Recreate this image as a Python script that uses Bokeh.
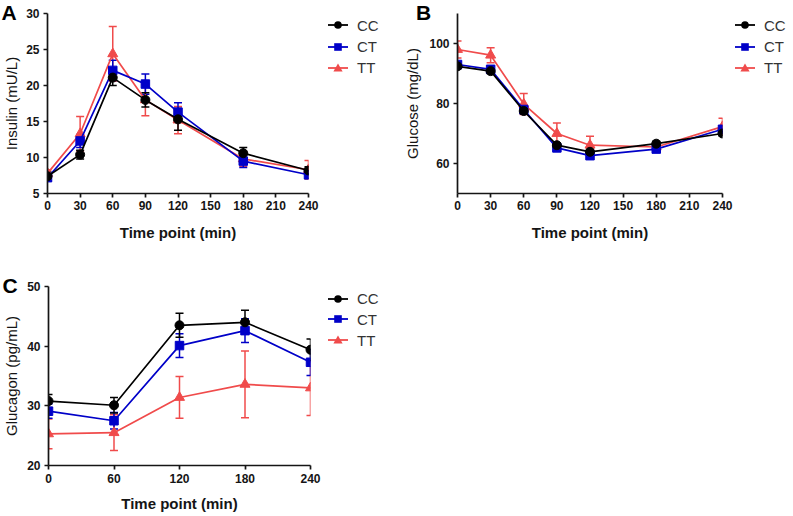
from bokeh.plotting import figure
from bokeh.models import ColumnDataSource, Whisker, TeeHead, FixedTicker, Range1d, Div
from bokeh.layouts import column, row
from bokeh.embed import file_html
from bokeh.resources import INLINE

# ---------------- data ----------------
series_names = ["CC", "CT", "TT"]

time_ab = [0, 30, 60, 90, 120, 180, 240]
ticks_ab = [0, 30, 60, 90, 120, 150, 180, 210, 240]

insulin_cc = [7.4, 10.4, 21.1, 18.0, 15.3, 10.6, 8.2]
insulin_cc_err = [0.6, 0.6, 1.1, 1.0, 1.5, 0.8, 0.5]
insulin_ct = [7.2, 12.3, 22.1, 20.2, 16.3, 9.5, 7.6]
insulin_ct_err = [0.5, 0.9, 1.4, 1.4, 1.3, 0.9, 0.5]
insulin_tt = [7.8, 13.3, 24.4, 18.0, 15.2, 9.8, 8.3]
insulin_tt_err = [0.5, 2.4, 3.8, 2.2, 1.9, 1.0, 1.3]
insulin_ticks = [5, 10, 15, 20, 25, 30]

glucose_cc = [92.4, 90.8, 77.5, 66.1, 63.9, 66.6, 70.0]
glucose_cc_err = [0.8, 0.8, 1.0, 0.8, 0.8, 0.8, 0.8]
glucose_ct = [93.0, 91.4, 78.0, 65.2, 62.6, 64.8, 71.4]
glucose_ct_err = [0.8, 0.8, 1.0, 0.8, 0.8, 0.8, 1.0]
glucose_tt = [98.0, 96.1, 79.8, 70.0, 66.1, 65.5, 72.3]
glucose_tt_err = [2.8, 2.5, 3.5, 3.5, 3.0, 0.8, 2.8]
glucose_ticks = [60, 80, 100]

time_c = [0, 60, 120, 180, 240]
ticks_c = [0, 60, 120, 180, 240]
glucagon_cc = [30.8, 30.1, 43.5, 44.0, 39.4]
glucagon_cc_err = [1.1, 1.3, 2.0, 2.0, 1.8]
glucagon_ct = [29.1, 27.5, 40.1, 42.6, 37.3]
glucagon_ct_err = [1.2, 1.4, 2.0, 2.0, 2.2]
glucagon_tt = [25.3, 25.5, 31.4, 33.6, 33.0]
glucagon_tt_err = [2.5, 3.0, 3.5, 5.6, 4.6]
glucagon_ticks = [20, 30, 40, 50]

# ---------------- style ----------------
COLORS = {"CC": "#000000", "CT": "#0000c8", "TT": "#f04b4b"}
MARKERS = {"CC": "circle", "CT": "square", "TT": "triangle"}
MSIZE = {"CC": 9, "CT": 8.5, "TT": 10}
FONT = "Liberation Sans"


def make_panel(x, ys, errs, xticks, yticks, yrange, ylabel,
               width, height, min_left, min_right, min_top, min_bottom,
               ylabel_standoff, xlabel_standoff, xtitle_standoff):
    p = figure(width=width, height=height, output_backend="svg", toolbar_location=None,
               x_range=Range1d(0, 240), y_range=Range1d(*yrange),
               min_border_left=min_left, min_border_right=min_right,
               min_border_top=min_top, min_border_bottom=min_bottom)
    p.outline_line_color = None
    p.grid.visible = False
    p.background_fill_color = "white"
    p.border_fill_color = "white"

    for ax in (p.xaxis[0], p.yaxis[0]):
        ax.axis_line_width = 1.7
        ax.axis_line_color = "#151515"
        ax.major_tick_line_width = 1.7
        ax.major_tick_line_color = "#151515"
        ax.major_tick_out = 4
        ax.major_tick_in = 0
        ax.minor_tick_line_color = None
        ax.major_label_text_font = FONT
        ax.major_label_text_font_style = "bold"
        ax.major_label_text_font_size = "12px"
        ax.major_label_text_color = "#151515"
        ax.axis_label_text_font = FONT
        ax.axis_label_text_color = "#151515"

    p.xaxis[0].ticker = FixedTicker(ticks=xticks)
    p.yaxis[0].ticker = FixedTicker(ticks=yticks)
    p.xaxis[0].axis_label = "Time point (min)"
    p.xaxis[0].axis_label_text_font_style = "bold"
    p.xaxis[0].axis_label_text_font_size = "15px"
    p.xaxis[0].major_label_standoff = xlabel_standoff
    p.xaxis[0].axis_label_standoff = xtitle_standoff
    p.yaxis[0].axis_label = ylabel
    p.yaxis[0].axis_label_text_font_style = "normal"
    p.yaxis[0].axis_label_text_font_size = "15px"
    p.yaxis[0].major_label_standoff = 4
    p.yaxis[0].axis_label_standoff = ylabel_standoff

    for name in reversed(series_names):
        c = COLORS[name]
        y = ys[name]
        e = errs[name]
        src = ColumnDataSource(dict(x=x, y=y,
                                    upper=[a + b for a, b in zip(y, e)],
                                    lower=[a - b for a, b in zip(y, e)]))
        w = Whisker(base="x", upper="upper", lower="lower", source=src,
                    line_color=c, line_width=1.5,
                    upper_head=TeeHead(size=8, line_color=c, line_width=1.5),
                    lower_head=TeeHead(size=8, line_color=c, line_width=1.5))
        p.add_layout(w)
        p.line("x", "y", source=src, line_color=c, line_width=1.7)
        p.scatter("x", "y", source=src, marker=MARKERS[name], size=MSIZE[name],
                  fill_color=c, line_color=c)
    return p


pA = make_panel(time_ab,
                {"CC": insulin_cc, "CT": insulin_ct, "TT": insulin_tt},
                {"CC": insulin_cc_err, "CT": insulin_ct_err, "TT": insulin_tt_err},
                ticks_ab, insulin_ticks, (5, 30), "Insulin (mU/L)",
                400, 258, 43, 92, 13, 65, 3, 3, 11)

pB = make_panel(time_ab,
                {"CC": glucose_cc, "CT": glucose_ct, "TT": glucose_tt},
                {"CC": glucose_cc_err, "CT": glucose_ct_err, "TT": glucose_tt_err},
                ticks_ab, glucose_ticks, (50, 110), "Glucose (mg/dL)",
                392, 258, 57, 70, 13, 65, 5, 3, 11)

pC = make_panel(time_c,
                {"CC": glucagon_cc, "CT": glucagon_ct, "TT": glucagon_tt},
                {"CC": glucagon_cc_err, "CT": glucagon_ct_err, "TT": glucagon_tt_err},
                ticks_c, glucagon_ticks, (20, 50), "Glucagon (pg/mL)",
                400, 257, 43, 90, 28, 50, 4, 4, 9)


# ---------------- panel letters and legends (HTML overlay) ----------------
def marker_svg(name):
    c = COLORS[name]
    m = MARKERS[name]
    if m == "circle":
        shape = f'<circle cx="10" cy="7" r="3.8" fill="{c}"/>'
    elif m == "square":
        shape = f'<rect x="6.2" y="3.2" width="7.6" height="7.6" fill="{c}"/>'
    else:
        shape = f'<polygon points="10,2.4 14.6,10.6 5.4,10.6" fill="{c}"/>'
    return (f'<svg width="20" height="14" style="position:absolute;left:0;top:0;overflow:visible">'
            f'<line x1="0" y1="7" x2="20" y2="7" stroke="{c}" stroke-width="1.8"/>{shape}</svg>')


def legend_html(left, row_centers):
    parts = []
    for name, cy in zip(series_names, row_centers):
        parts.append(
            f'<div style="position:absolute;left:{left}px;top:{cy - 7}px;width:60px;height:14px;">'
            f'{marker_svg(name)}'
            f'<span style="position:absolute;left:29px;top:-0.3px;font-family:\'Liberation Sans\';'
            f'font-size:15px;line-height:15px;color:#333333;white-space:nowrap">{name}</span></div>')
    return "".join(parts)


def letter_html(text, left, cap_top):
    return (f'<span style="position:absolute;left:{left}px;top:{cap_top - 2.7}px;'
            f'font-family:\'Liberation Sans\';font-weight:bold;font-size:21px;line-height:21px;'
            f'color:#000000">{text}</span>')


overlay_html = (letter_html("A", 1.5, 5) + letter_html("B", 416, 5) + letter_html("C", 2.5, 278)
                + legend_html(328, [25, 46.5, 67.5])
                + legend_html(735, [25, 46.5, 67.5])
                + legend_html(328, [298.5, 319.3, 340]))

overlay = Div(text=overlay_html, margin=0,
              styles={"position": "absolute", "left": "0px", "top": "0px",
                      "width": "792px", "height": "515px", "pointer-events": "none",
                      "z-index": "10", "overflow": "visible"})

layout = column(row(pA, pB), pC, overlay)
open("out.html", "w").write(file_html(layout, INLINE))
